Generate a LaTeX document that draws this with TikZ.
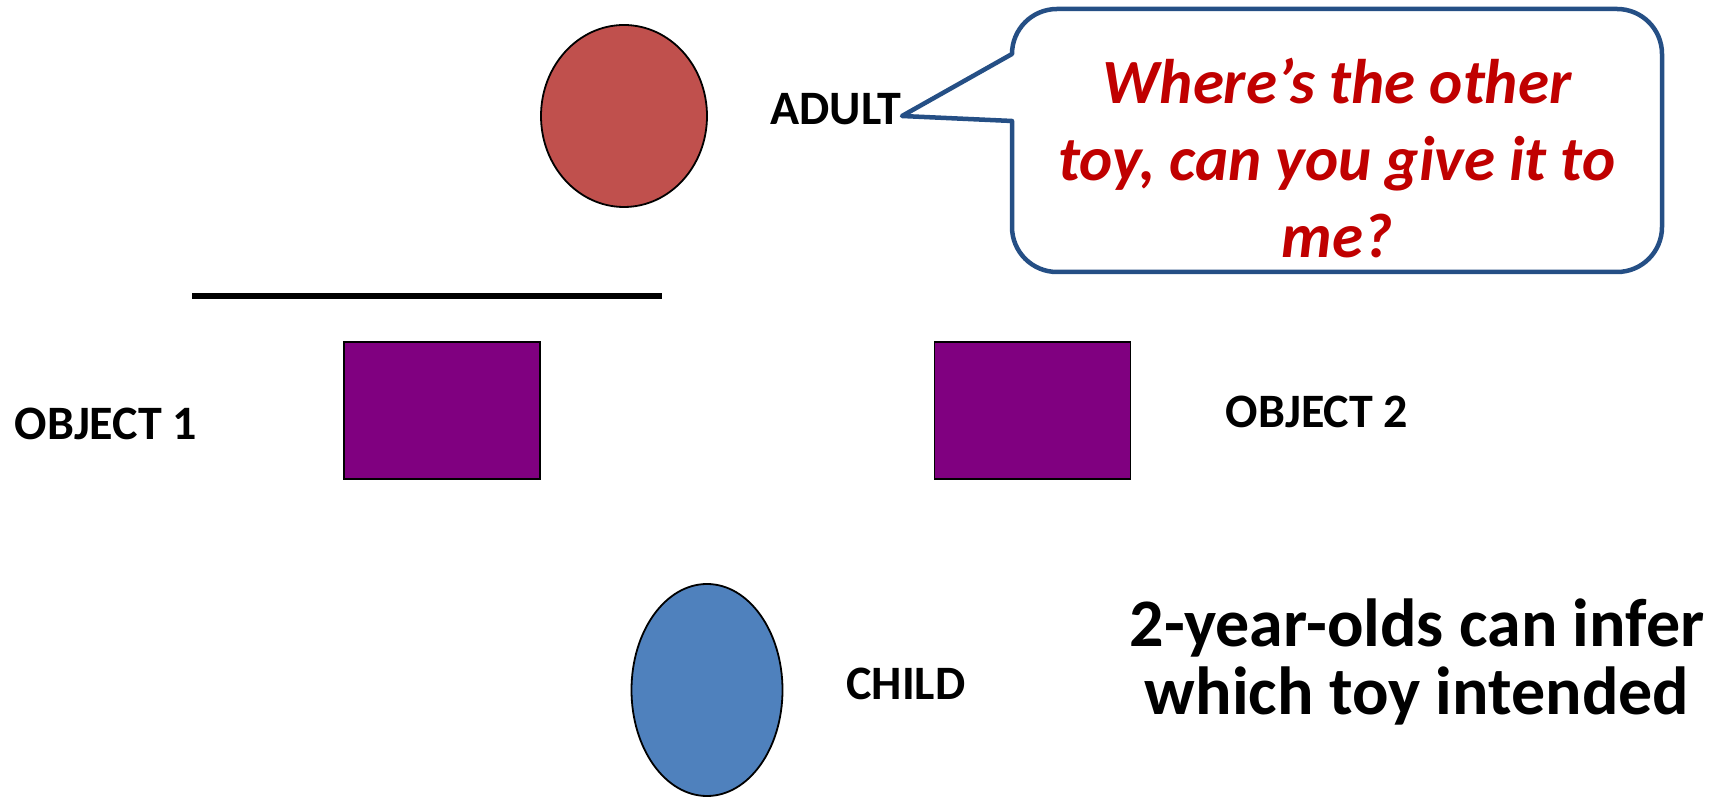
\documentclass[tikz,border=0pt]{standalone}
\usepackage{fontspec}
\setmainfont{Carlito}
\usetikzlibrary{shapes.geometric}
\definecolor{adultred}{HTML}{C0504D}
\definecolor{childblue}{HTML}{4F81BD}
\definecolor{objpurple}{HTML}{800080}
\definecolor{calloutblue}{HTML}{254F85}
\definecolor{speechred}{HTML}{C00000}
\tikzset{
  person/.style={ellipse, draw=black, line width=1.8pt, inner sep=0pt},
  objbox/.style={rectangle, draw=black, line width=1.8pt, fill=objpurple, inner sep=0pt, minimum width=196pt, minimum height=137pt},
  lbl/.style={font=\fontsize{48}{56}\selectfont\bfseries, inner sep=0pt, anchor=base},
}
\begin{document}
\begin{tikzpicture}[x=1pt,y=1pt]
\useasboundingbox (0,0) rectangle (1719,797);
% adult
\node[person, fill=adultred, minimum width=166pt, minimum height=182pt] (adult) at (624,681) {};
\node[lbl] (adultlbl) at (836,672) {ADULT};
% barrier line
\coordinate (barL) at (192,501);
\coordinate (barR) at (662,501);
\draw[line width=5.5pt] (barL) -- (barR);
% objects
\node[objbox] (obj1) at (442,386.5) {};
\node[objbox] (obj2) at (1032.5,386.5) {};
\node[lbl] (obj1lbl) at (106,357) {OBJECT 1};
\node[lbl] (obj2lbl) at (1317,369) {OBJECT 2};
% child
\node[person, fill=childblue, minimum width=151pt, minimum height=212pt] (child) at (707,107) {};
\node[lbl] (childlbl) at (906,97) {CHILD};
% callout
\coordinate (tip) at (902,681);
\draw[calloutblue, line width=4.5pt, line join=round, fill=white]
  (1012,676) -- (1012,570) arc[start angle=180,end angle=270,radius=45]
  -- (1617,525) arc[start angle=270,end angle=360,radius=45]
  -- (1662,743) arc[start angle=0,end angle=90,radius=45]
  -- (1057,788) arc[start angle=90,end angle=180,radius=45]
  -- (tip) -- cycle;
\node[align=center, text=speechred, font=\fontsize{63}{77}\selectfont\bfseries\itshape, inner sep=0pt] (speech) at (1337,639)
  {Where’s the other\\toy, can you give it to\\me?};
% conclusion
\node[align=center, font=\fontsize{68}{68}\selectfont\bfseries, inner sep=0pt] (concl) at (1417,135)
  {2-year-olds can infer\\which toy intended};
\end{tikzpicture}
\end{document}
